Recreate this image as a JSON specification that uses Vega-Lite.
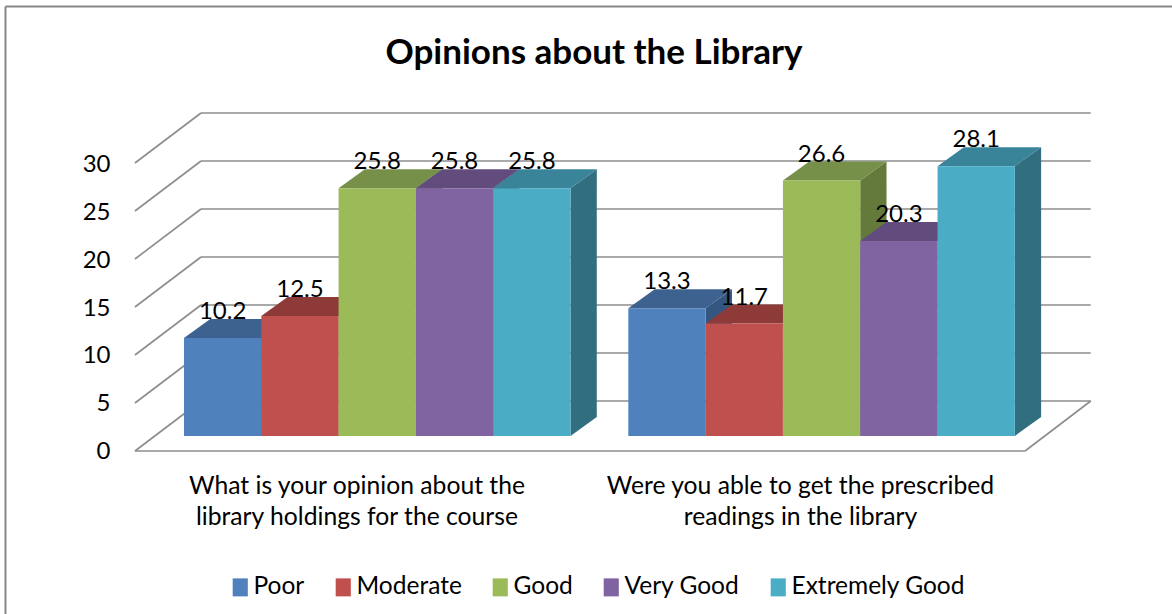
{
  "$schema": "https://vega.github.io/schema/vega-lite/v6.json",
  "width": 1172,
  "height": 614,
  "padding": 0,
  "autosize": "none",
  "background": "white",
  "config": {"view": {"stroke": null}, "font": "Lato"},
  "title": {"text": "Opinions about the Library", "font": "Lato", "fontSize": 35, "fontWeight": "bold", "color": "#000000", "anchor": "middle", "offset": -71, "dx": 8},
  "data": {"values": [
    {"question": "holdings", "category": "Poor", "value": 10.2},
    {"question": "holdings", "category": "Moderate", "value": 12.5},
    {"question": "holdings", "category": "Good", "value": 25.8},
    {"question": "holdings", "category": "Very Good", "value": 25.8},
    {"question": "holdings", "category": "Extremely Good", "value": 25.8},
    {"question": "readings", "category": "Poor", "value": 13.3},
    {"question": "readings", "category": "Moderate", "value": 11.7},
    {"question": "readings", "category": "Good", "value": 26.6},
    {"question": "readings", "category": "Very Good", "value": 20.3},
    {"question": "readings", "category": "Extremely Good", "value": 28.1}
  ]},
  "transform": [
    {"calculate": "indexof(['Poor','Moderate','Good','Very Good','Extremely Good'],datum.category)+(datum.question==='holdings'?0:5.748)", "as": "xl"},
    {"calculate": "datum.xl+1", "as": "xr"},
    {"calculate": "datum.xl+0.5", "as": "xm"},
    {"calculate": "datum.value+1.57", "as": "top"},
    {"calculate": "datum.question+datum.category", "as": "id"}
  ],
  "layer": [
    {
      "data": {"values": [{"edge": "frame"}]},
      "mark": {"type": "rule", "stroke": "#868686", "strokeWidth": 2},
      "encoding": {
        "x": {"datum": -2.309, "type": "quantitative", "scale": {"domain": [-2.38, 12.781], "nice": false, "zero": false}, "axis": null},
        "x2": {"datum": 12.781},
        "y": {"datum": 46.3, "type": "quantitative", "scale": {"domain": [-16.98, 46.98], "nice": false, "zero": false}, "axis": {"values": [0, 5, 10, 15, 20, 25, 30], "offset": -135, "domain": false, "ticks": false, "grid": false, "labelPadding": 25, "labelFont": "Lato", "labelFontSize": 24, "labelColor": "#000000", "labelOffset": 1, "title": null, "orient": "left"}},
        "y2": {"datum": 46.3}
      }
    },
    {
      "data": {"values": [{"edge": "frame"}]},
      "mark": {"type": "rule", "stroke": "#868686", "strokeWidth": 2},
      "encoding": {
        "x": {"datum": -2.309, "type": "quantitative"},
        "y": {"datum": 46.3, "type": "quantitative"},
        "y2": {"datum": -16.98}
      }
    },
    {
      "data": {"values": [{"v": 0}, {"v": 5}, {"v": 10}, {"v": 15}, {"v": 20}, {"v": 25}, {"v": 30}]},
      "transform": [{"calculate": "datum.v+5.208", "as": "vb"}],
      "mark": {"type": "rule", "stroke": "#8c8c8c", "strokeWidth": 1.6},
      "encoding": {
        "x": {"datum": -0.634, "type": "quantitative"},
        "x2": {"datum": 0.22},
        "y": {"field": "v", "type": "quantitative"},
        "y2": {"field": "vb"}
      }
    },
    {
      "data": {"values": [{"v": 0}, {"v": 5}, {"v": 10}, {"v": 15}, {"v": 20}, {"v": 25}, {"v": 30}]},
      "transform": [{"calculate": "datum.v+5.208", "as": "vb"}],
      "mark": {"type": "rule", "stroke": "#8c8c8c", "strokeWidth": 1.6},
      "encoding": {
        "x": {"datum": 0.22, "type": "quantitative"},
        "x2": {"datum": 11.73},
        "y": {"field": "vb", "type": "quantitative"}
      }
    },
    {
      "data": {"values": [{"edge": "floor"}]},
      "mark": {"type": "rule", "stroke": "#8c8c8c", "strokeWidth": 1.6},
      "encoding": {
        "x": {"datum": -0.634, "type": "quantitative"},
        "x2": {"datum": 10.88},
        "y": {"datum": 0, "type": "quantitative"}
      }
    },
    {
      "data": {"values": [{"edge": "floor"}]},
      "mark": {"type": "rule", "stroke": "#8c8c8c", "strokeWidth": 1.6},
      "encoding": {
        "x": {"datum": 10.88, "type": "quantitative"},
        "x2": {"datum": 11.73},
        "y": {"datum": 0, "type": "quantitative"},
        "y2": {"datum": 5.208}
      }
    },
    {
      "transform": [
        {"calculate": "[0,1]", "as": "d"},
        {"flatten": ["d"]},
        {"calculate": "datum.xr+0.34*datum.d", "as": "sx"},
        {"calculate": "datum.top+1.98*datum.d", "as": "st"},
        {"calculate": "1.57+1.98*datum.d", "as": "sb"}
      ],
      "mark": {"type": "area", "orient": "vertical", "interpolate": "linear"},
      "encoding": {
        "x": {"field": "sx", "type": "quantitative"},
        "y": {"field": "st", "type": "quantitative"},
        "y2": {"field": "sb"},
        "detail": {"field": "id"},
        "color": {"field": "category", "type": "nominal", "legend": null, "scale": {"domain": ["Poor", "Moderate", "Good", "Very Good", "Extremely Good"], "range": ["#345781", "#7D3532", "#647A3B", "#534169", "#316E80"]}}
      }
    },
    {
      "transform": [
        {"calculate": "[0,1]", "as": "d"},
        {"flatten": ["d"]},
        {"calculate": "datum.xl+0.34*datum.d", "as": "tl"},
        {"calculate": "datum.xr+0.34*datum.d", "as": "tr"},
        {"calculate": "datum.top+1.98*datum.d", "as": "ty"}
      ],
      "mark": {"type": "area", "orient": "horizontal", "interpolate": "linear"},
      "encoding": {
        "y": {"field": "ty", "type": "quantitative"},
        "x": {"field": "tl", "type": "quantitative"},
        "x2": {"field": "tr"},
        "detail": {"field": "id"},
        "color": {"field": "category", "type": "nominal", "legend": null, "scale": {"domain": ["Poor", "Moderate", "Good", "Very Good", "Extremely Good"], "range": ["#3E628F", "#8E3A38", "#76904A", "#624C7E", "#3A8499"]}}
      }
    },
    {
      "mark": {"type": "rect"},
      "transform": [{"calculate": "1.57", "as": "bottom"}],
      "encoding": {
        "x": {"field": "xl", "type": "quantitative"},
        "x2": {"field": "xr"},
        "y": {"field": "top", "type": "quantitative"},
        "y2": {"field": "bottom"},
        "color": {"field": "category", "type": "nominal", "scale": {"domain": ["Poor", "Moderate", "Good", "Very Good", "Extremely Good"], "range": ["#4F81BD", "#C0504D", "#9BBB59", "#8064A2", "#4BACC6"]}, "legend": {"title": null, "orient": "none", "legendX": 228, "legendY": 575, "direction": "horizontal", "columns": 5, "columnPadding": 26, "symbolType": "M-0.84,-1H0.84V1H-0.84Z", "symbolSize": 324, "symbolStrokeWidth": 0, "labelFont": "Lato", "labelFontSize": 24.5, "labelColor": "#000000", "labelOffset": 1, "labelLimit": 300}}
      }
    },
    {
      "transform": [{"calculate": "datum.top+1.98", "as": "ly"}],
      "mark": {"type": "text", "font": "Lato", "fontSize": 24, "color": "#000000", "align": "center", "baseline": "alphabetic"},
      "encoding": {
        "x": {"field": "xm", "type": "quantitative"},
        "y": {"field": "ly", "type": "quantitative"},
        "text": {"field": "value", "type": "quantitative", "format": ".1f"}
      }
    },
    {
      "data": {"values": [
        {"question": "What is your opinion about the\nlibrary holdings for the course", "position": 2.238},
        {"question": "Were you able to get the prescribed\nreadings in the library", "position": 7.975}
      ]},
      "mark": {"type": "text", "font": "Lato", "fontSize": 24.7, "color": "#000000", "align": "center", "baseline": "top", "lineBreak": "\n", "lineHeight": 31},
      "encoding": {
        "x": {"field": "position", "type": "quantitative"},
        "y": {"datum": -2.4, "type": "quantitative"},
        "text": {"field": "question"}
      }
    }
  ],
  "resolve": {"scale": {"color": "independent"}}
}
